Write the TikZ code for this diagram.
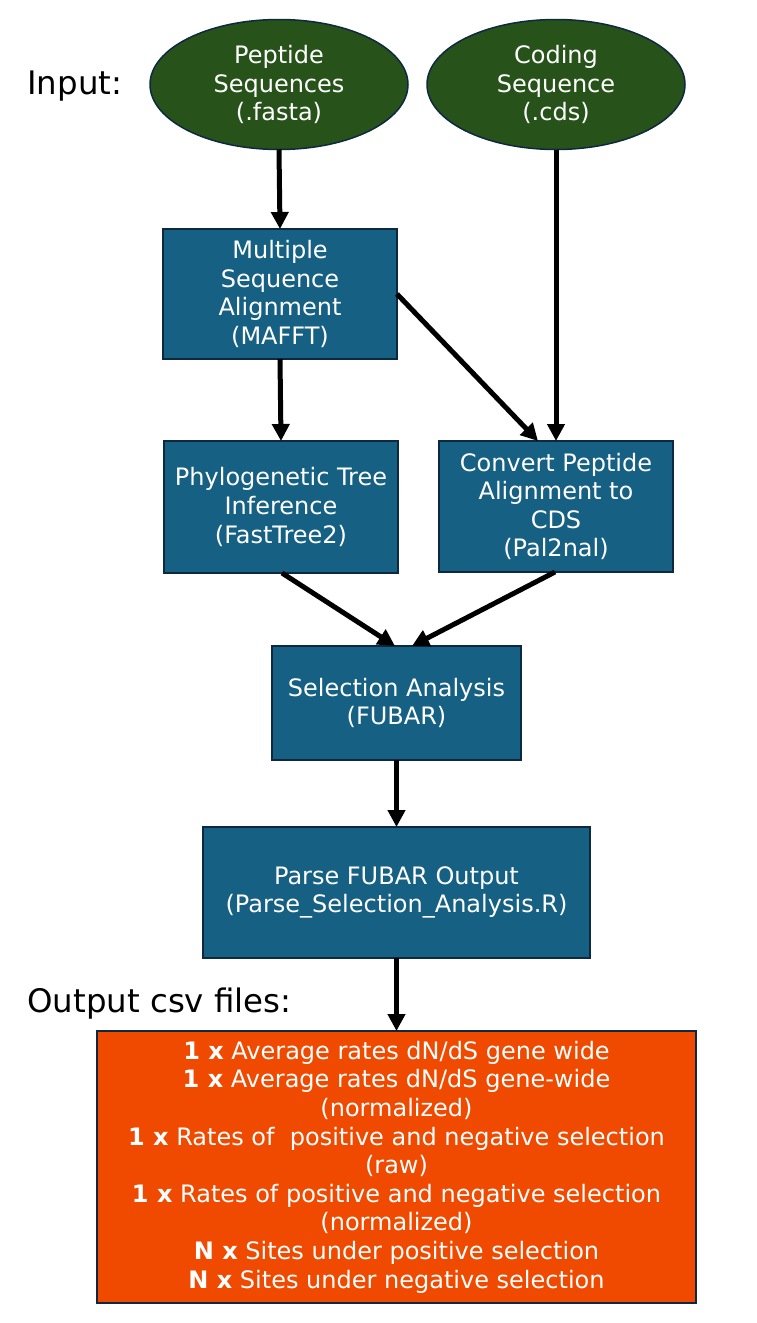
\documentclass[tikz,border=0pt]{standalone}
\usepackage{fontspec}
\setmainfont{DejaVu Sans}
\usetikzlibrary{positioning,shapes.geometric,arrows.meta}
\definecolor{inputColor}{RGB}{39,83,26}
\definecolor{stepColor}{RGB}{22,96,131}
\definecolor{outputColor}{RGB}{240,74,0}
\definecolor{edgeColor}{RGB}{14,40,65}
\tikzstyle{flow} = [x = .5pt, y = -.5pt]
\tikzstyle{boxText} = [text=white, align=center, font=\fontsize{12}{14.3}\selectfont, inner sep=0pt, outer sep=0pt, draw=edgeColor, line width=.75pt]
\tikzstyle{inputStyle} = [boxText, ellipse, fill=inputColor, minimum width=129pt, minimum height=65pt]
\tikzstyle{stepStyle} = [boxText, rectangle, fill=stepColor]
\tikzstyle{outputStyle} = [boxText, rectangle, fill=outputColor, minimum width=299.5pt, minimum height=136pt]
\tikzstyle{sideLabel} = [anchor=west, inner sep=0pt, font=\fontsize{16.2}{20}\selectfont]
\tikzstyle{flowArrow} = [-{Triangle[length=8.5pt,width=8.5pt]}, line width=2.5pt]

\begin{document}
\begin{tikzpicture}[flow]
  \useasboundingbox (0,0) rectangle (756,1323);

  % input files
  \node [sideLabel] (inputLabel) at (27,86) {Input:};
  \node [inputStyle] (peptide) at (279,84.5) {Peptide\\Sequences\\(.fasta)};
  \node [inputStyle] (coding) at (556,84.5) {Coding\\Sequence\\(.cds)};

  % pipeline steps
  \node [stepStyle, minimum width=117pt, minimum height=65pt] (msa) at (280,294) {Multiple\\Sequence\\Alignment\\(MAFFT)};
  \node [stepStyle, minimum width=117pt, minimum height=66pt] (tree) at (281,507) {Phylogenetic Tree\\Inference\\(FastTree2)};
  \node [stepStyle, minimum width=117pt, minimum height=65.5pt] (pal) at (556,506.5) {Convert Peptide\\Alignment to\\CDS\\(Pal2nal)};
  \node [stepStyle, minimum width=124.5pt, minimum height=57pt] (fubar) at (396.5,703) {Selection Analysis\\(FUBAR)};
  \node [stepStyle, minimum width=193.5pt, minimum height=65.5pt] (parse) at (396.5,892.5) {Parse FUBAR Output\\(Parse\_Selection\_Analysis.R)};

  % output files
  \node [sideLabel] (outputLabel) at (27,1004) {Output csv files:};
  \node [outputStyle] (results) at (396.5,1167) {\textbf{1 x} Average rates dN/dS gene wide\\
    \textbf{1 x} Average rates dN/dS gene-wide\\
    (normalized)\\
    \textbf{1 x} Rates of~ positive and negative selection\\
    (raw)\\
    \textbf{1 x} Rates of positive and negative selection\\
    (normalized)\\
    \textbf{N x} Sites under positive selection\\
    \textbf{N x} Sites under negative selection};

  % arrows
  \draw [flowArrow] (peptide.south) -- (msa.north);
  \draw [flowArrow] (coding.south) -- (pal.north);
  \draw [flowArrow] (msa.east) -- ([xshift=-9pt]pal.north);
  \draw [flowArrow] (msa.south) -- (tree.north);
  \draw [flowArrow] ([xshift=.5pt]tree.south) -- ([xshift=-.75pt]fubar.north);
  \draw [flowArrow] ([xshift=-.5pt]pal.south) -- ([xshift=7.75pt]fubar.north);
  \draw [flowArrow] (fubar.south) -- (parse.north);
  \draw [flowArrow] (parse.south) -- (results.north);
\end{tikzpicture}
\end{document}
